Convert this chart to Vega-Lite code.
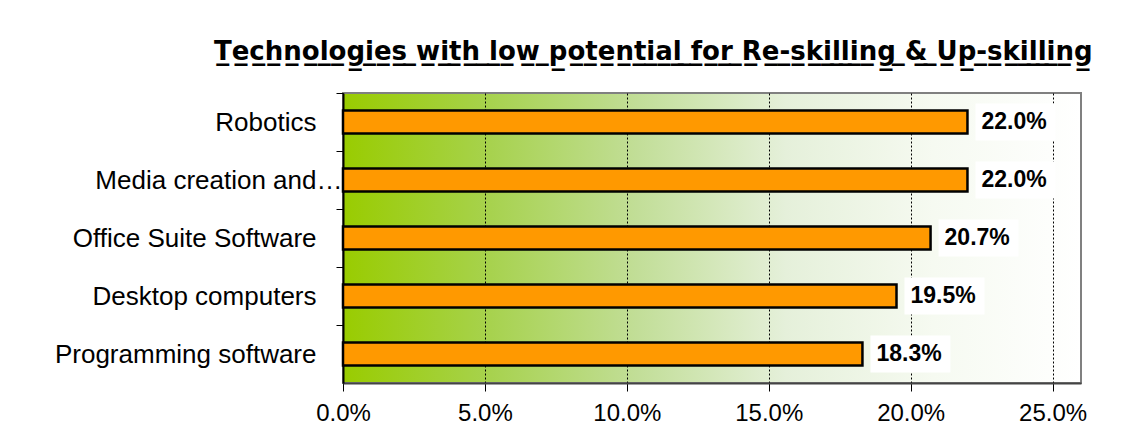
{
  "$schema": "https://vega.github.io/schema/vega-lite/v6.json",
  "autosize": "none",
  "width": 738,
  "height": 290,
  "padding": {"left": 343, "top": 93, "right": 50, "bottom": 63},
  "background": "white",
  "title": {
    "text": "T̲e̲c̲h̲n̲o̲l̲o̲g̲i̲e̲s̲ ̲w̲i̲t̲h̲ ̲l̲o̲w̲ ̲p̲o̲t̲e̲n̲t̲i̲a̲l̲ ̲f̲o̲r̲ ̲R̲e̲-̲s̲k̲i̲l̲l̲i̲n̲g̲ ̲&̲ ̲U̲p̲-̲s̲k̲i̲l̲l̲i̲n̲g̲",
    "anchor": "end",
    "font": "DejaVu Sans",
    "fontWeight": "bold",
    "fontSize": 26,
    "color": "black",
    "offset": 28,
    "dx": 6
  },
  "data": {
    "values": [
      {"tech": "Robotics", "share": 0.22},
      {"tech": "Media creation and…", "share": 0.22},
      {"tech": "Office Suite Software", "share": 0.207},
      {"tech": "Desktop computers", "share": 0.195},
      {"tech": "Programming software", "share": 0.183}
    ]
  },
  "encoding": {
    "y": {
      "field": "tech",
      "type": "nominal",
      "sort": null,
      "scale": {"paddingInner": 0, "paddingOuter": 0},
      "axis": {
        "title": null,
        "domainColor": "black",
        "domainWidth": 2,
        "tickColor": "black",
        "tickSize": 7,
        "tickWidth": 1,
        "tickOffset": -29,
        "labelOffset": 29,
        "labelPadding": {
          "condition": {"test": "datum.label == 'Media creation and…'", "value": -6},
          "value": 20
        },
        "labelFont": "Liberation Sans",
        "labelFontSize": 26,
        "labelColor": "black",
        "labelLimit": 340
      }
    },
    "x": {
      "field": "share",
      "type": "quantitative",
      "scale": {"domain": [0, 0.26], "nice": false},
      "axis": {
        "title": null,
        "values": [0, 0.05, 0.1, 0.15, 0.2, 0.25],
        "format": ".1%",
        "domainColor": "#444444",
        "domainWidth": 2,
        "tickColor": "black",
        "tickSize": 8,
        "tickWidth": 1,
        "labelPadding": 10,
        "labelFont": "Liberation Sans",
        "labelFontSize": 24,
        "labelColor": "black",
        "labelFlush": false,
        "grid": true,
        "gridColor": "black",
        "gridDash": [2, 2],
        "gridWidth": 1
      }
    }
  },
  "layer": [
    {
      "mark": {
        "type": "bar",
        "fill": "#FF9900",
        "stroke": "black",
        "strokeWidth": 2.5,
        "height": {"band": 0.4}
      }
    },
    {
      "mark": {
        "type": "rect",
        "fill": "white",
        "width": 80,
        "height": 37,
        "xOffset": 48
      }
    },
    {
      "mark": {
        "type": "text",
        "align": "left",
        "baseline": "middle",
        "dx": 14,
        "font": "Liberation Sans",
        "fontWeight": "bold",
        "fontSize": 23,
        "color": "black"
      },
      "encoding": {
        "text": {"field": "share", "type": "quantitative", "format": ".1%"}
      }
    }
  ],
  "config": {
    "view": {
      "stroke": "#808080",
      "strokeWidth": 2,
      "fill": {
        "gradient": "linear",
        "x1": 0, "y1": 0, "x2": 1, "y2": 0,
        "stops": [
          {"offset": 0, "color": "#99CC00"},
          {"offset": 0.2, "color": "#A7D24E"},
          {"offset": 0.4, "color": "#C2DE98"},
          {"offset": 0.6, "color": "#E5F0DA"},
          {"offset": 0.8, "color": "#F6FAF1"},
          {"offset": 1, "color": "#FFFFFF"}
        ]
      }
    }
  }
}
